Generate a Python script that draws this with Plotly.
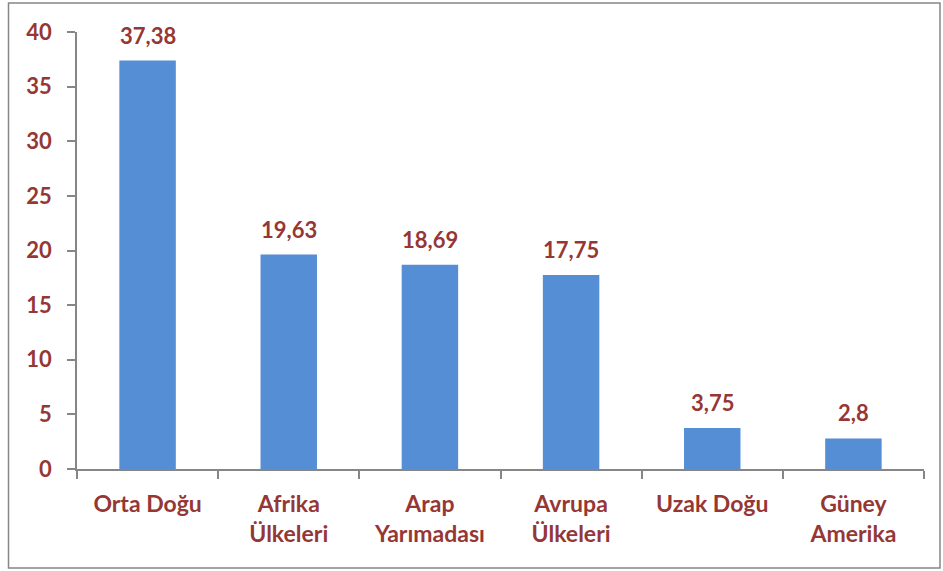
import plotly.graph_objects as go

categories = ["Orta Doğu", "Afrika<br>Ülkeleri", "Arap<br>Yarımadası", "Avrupa<br>Ülkeleri", "Uzak Doğu", "Güney<br>Amerika"]
values = [37.38, 19.63, 18.69, 17.75, 3.75, 2.8]
labels = ["37,38", "19,63", "18,69", "17,75", "3,75", "2,8"]
y_ticks = [0, 5, 10, 15, 20, 25, 30, 35, 40]

W, H = 943, 571
ml, mr, mt, mb = 77, 19, 32, 102
pw, ph = W - ml - mr, H - mt - mb

red = "#953735"
blue = "#558ED5"
axis_col = "#868686"
font_fam = "Lato, Calibri, sans-serif"

fig = go.Figure()
fig.add_trace(go.Bar(x=categories, y=values, marker=dict(color=blue, line=dict(width=0)), width=0.4, hoverinfo="skip"))

for c, v, t in zip(categories, values, labels):
    fig.add_annotation(x=c, y=v, text=t, showarrow=False, yanchor="bottom", yshift=10,
                       font=dict(family=font_fam, size=22, color=red, weight="bold"))

def px_to_paper_x(p):
    return (p - ml) / pw

def px_to_paper_y(p):
    return (H - mb - p) / ph

fig.add_shape(type="rect", xref="paper", yref="paper",
              x0=px_to_paper_x(8.5), x1=px_to_paper_x(940),
              y0=px_to_paper_y(568), y1=px_to_paper_y(3),
              line=dict(color=axis_col, width=1.5), fillcolor="rgba(0,0,0,0)", layer="below")

fig.update_layout(
    width=W, height=H,
    margin=dict(l=ml, r=mr, t=mt, b=mb),
    paper_bgcolor="white", plot_bgcolor="white",
    showlegend=False,
    bargap=0.6,
    font=dict(family=font_fam, color=red, size=22),
)
fig.update_xaxes(
    showline=True, linecolor=axis_col, linewidth=1.5,
    ticks="outside", tickson="boundaries", ticklen=8, tickcolor=axis_col, tickwidth=1.5,
    tickfont=dict(family=font_fam, size=23, color=red, weight="bold"),
    ticklabelstandoff=14,
    showgrid=False, zeroline=False,
)
fig.update_yaxes(
    range=[0, 40], tickvals=y_ticks,
    showline=True, linecolor=axis_col, linewidth=1.5,
    ticks="outside", ticklen=8, tickcolor=axis_col, tickwidth=1.5,
    tickfont=dict(family=font_fam, size=22, color=red, weight="bold"),
    ticklabelstandoff=11,
    showgrid=False, zeroline=False,
)

fig.write_html("out.html", config={"displayModeBar": False},
               post_script="document.body.style.margin='0';")
